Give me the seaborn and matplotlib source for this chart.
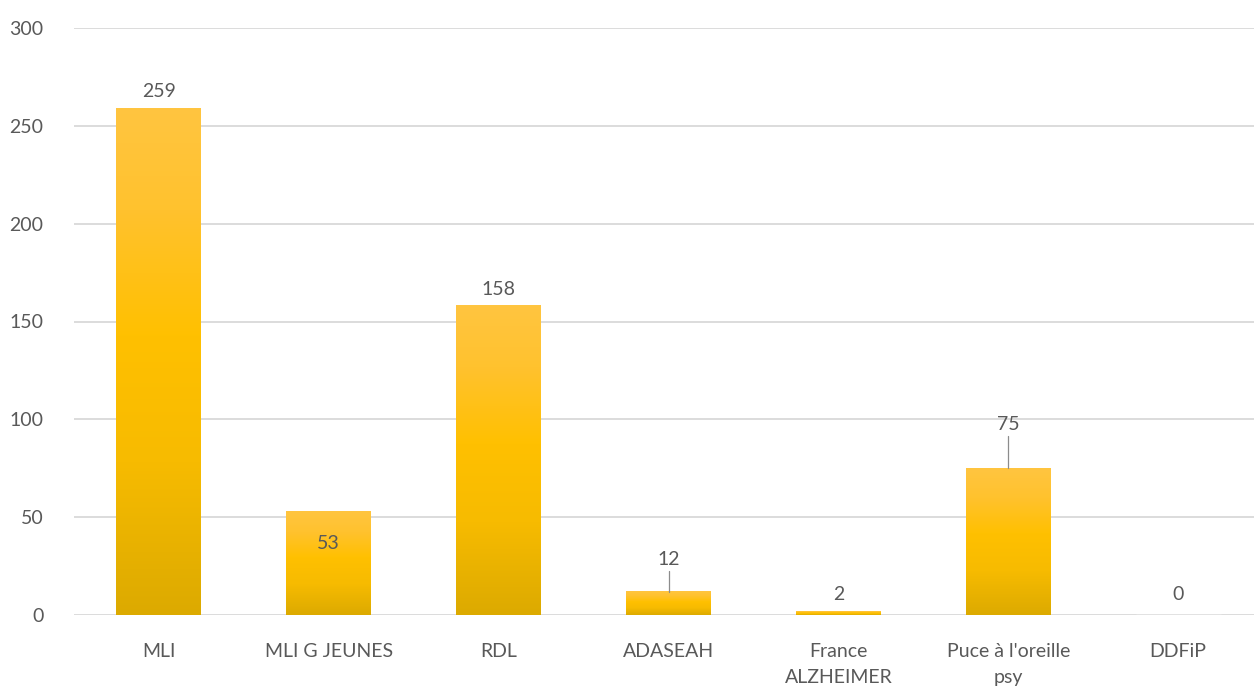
import numpy as np
import matplotlib
matplotlib.use("Agg")
import matplotlib.pyplot as plt
from matplotlib.colors import LinearSegmentedColormap
import seaborn as sns

# Données
categories = ["MLI", "MLI G JEUNES", "RDL", "ADASEAH", "France\nALZHEIMER", "Puce à l'oreille\npsy", "DDFiP"]
values = [259, 53, 158, 12, 2, 75, 0]

# Décalage des étiquettes (en unités de données) et lignes de rappel
label_offset = [4, -21, 4, 12, 4, 18, 6]
leader = [False, False, False, True, False, True, False]

sns.set_style("white")
plt.rcParams["font.family"] = ["Lato", "DejaVu Sans"]
txt = "#595959"

fig = plt.figure(figsize=(12.54, 6.95), dpi=100)
ax = fig.add_axes([74 / 1254, 80 / 695, 1189 / 1254, 587 / 695])

sns.barplot(x=categories, y=values, color="#ffc000", width=0.5, ax=ax, zorder=2)

# Dégradé sur chaque barre
cmap = LinearSegmentedColormap.from_list(
    "or", [(0, "#dcaa00"), (0.3, "#f7bb00"), (0.55, "#ffc000"), (0.8, "#ffc22e"), (1, "#ffc540")])
grad = np.linspace(0, 1, 256).reshape(-1, 1)
for p in ax.patches:
    x0, y0 = p.get_x(), p.get_y()
    w, h = p.get_width(), p.get_height()
    if h <= 0:
        continue
    ax.imshow(grad, cmap=cmap, aspect="auto", origin="lower",
              extent=[x0, x0 + w, y0, y0 + max(h, 0.8)], zorder=3)
    p.set_facecolor("none")
    p.set_edgecolor("none")

ax.set_xlim(-0.5, 6.5)
ax.set_ylim(0, 300)
ax.set_yticks(range(0, 301, 50))
ax.yaxis.grid(True, color="#d9d9d9", lw=1.3, zorder=0)
ax.set_axisbelow(True)
sns.despine(ax=ax, left=True, bottom=True, top=True, right=True)
ax.tick_params(axis="both", length=0, labelsize=14, colors=txt)
ax.tick_params(axis="y", pad=22)
ax.tick_params(axis="x", pad=20)
for lab in ax.get_xticklabels():
    lab.set_linespacing(1.65)

for i, v in enumerate(values):
    ty = v + label_offset[i]
    ax.text(i, ty, str(v), ha="center", va="bottom", fontsize=14, color=txt, zorder=4)
    if leader[i]:
        ax.plot([i, i], [v, ty - 1.5], color="#8c8c8c", lw=0.9, zorder=4)

fig.savefig("out.png", dpi=100)
